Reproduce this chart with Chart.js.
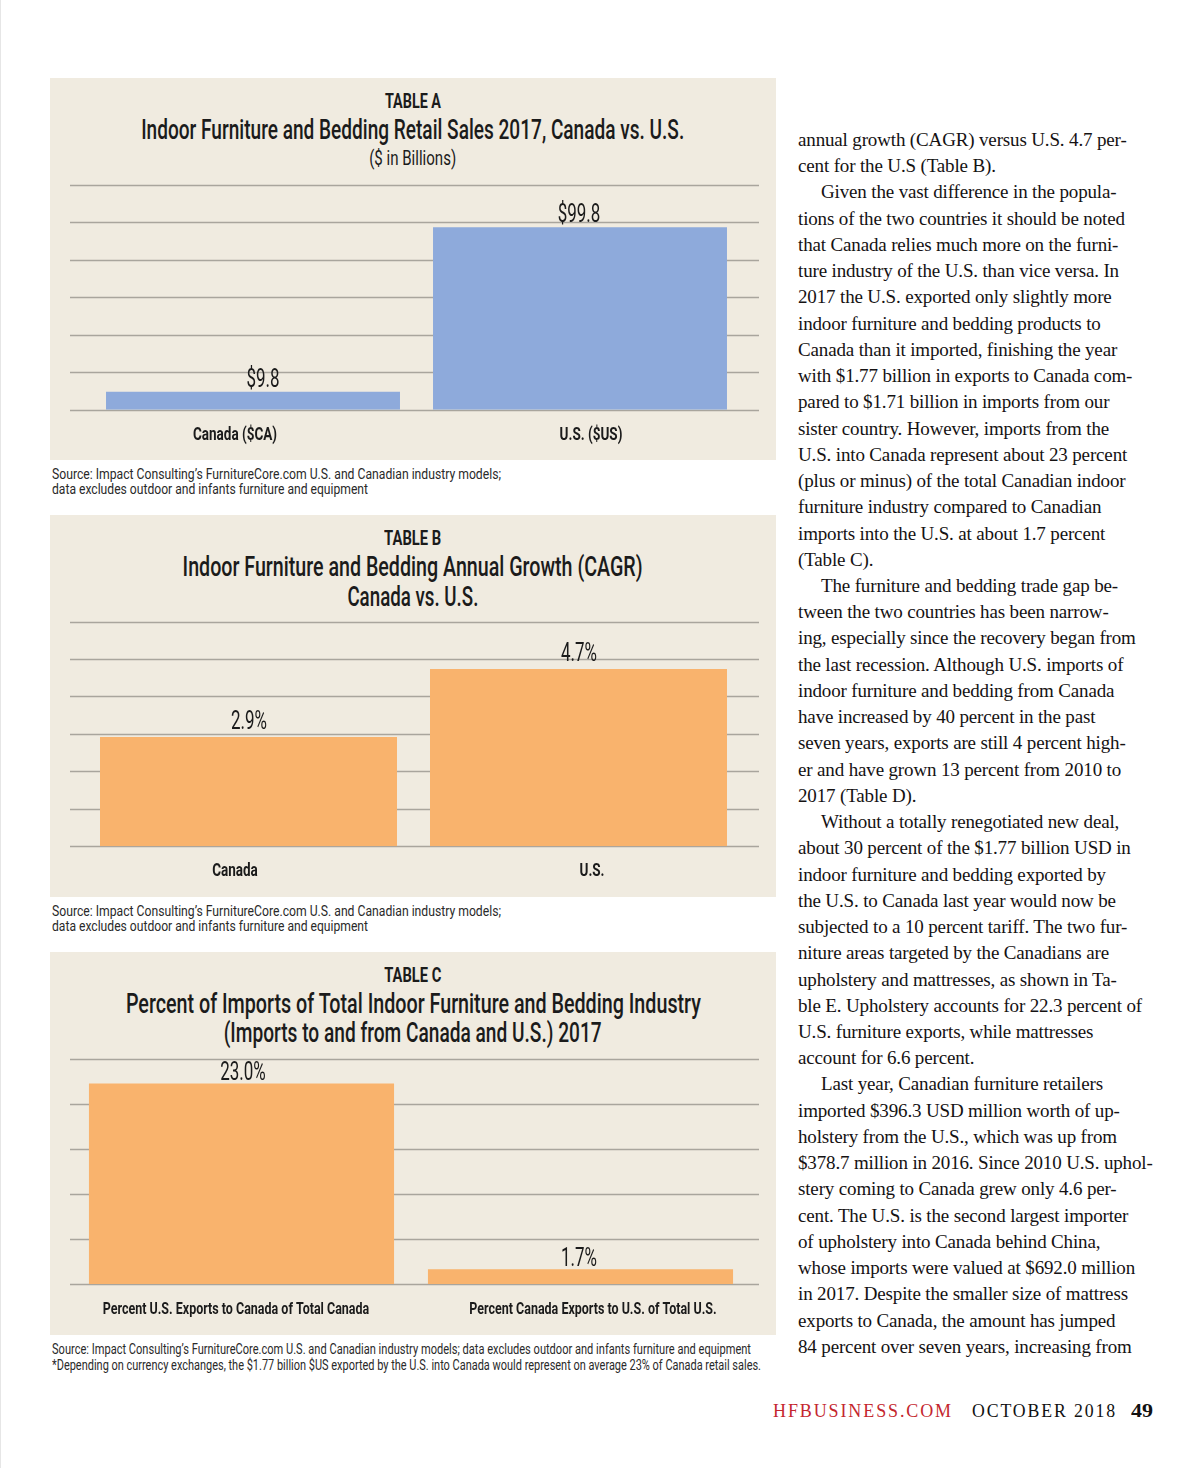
<!DOCTYPE html>
<html><head><meta charset="utf-8">
<script src="https://cdn.jsdelivr.net/npm/chart.js@4.4.1/dist/chart.umd.min.js"></script>
<style>
html,body{margin:0;padding:0;background:#fff}
body{width:1200px;height:1468px;position:relative;overflow:hidden}
.edge{position:absolute;left:0;top:0;width:1px;height:1468px;background:#e6e6e6}
.panel{position:absolute;left:50px;width:726px;background:#f0ebe0}
.ctr{position:absolute;left:413px;width:0;display:flex;justify-content:center;white-space:nowrap}
.lft{position:absolute;left:52px;white-space:nowrap}
.fit{display:inline-block;white-space:nowrap;flex:none}
.ctr .fit{transform-origin:50% 50%}
.lft .fit{transform-origin:0 50%}
.cond{font-family:Roboto,"Liberation Sans",sans-serif;color:#1b1b1b}
.ttl{font-weight:500}
.src{font-size:15px;line-height:16px;color:#2a2a2a}
canvas{position:absolute;left:50px}
.col{position:absolute;left:798px;top:127px;font-family:"Liberation Serif","DejaVu Serif",serif;font-size:19px;line-height:26.24px;color:#151213;white-space:nowrap;letter-spacing:-0.15px}
.ind{padding-left:23px}
.foot{position:absolute;top:1400px;font-family:"Liberation Serif","DejaVu Serif",serif;font-size:19px;line-height:22px;white-space:nowrap}
.foot .fit{transform-origin:0 50%}
</style>
</head>
<body>
<div class="edge"></div>
<div class="panel" style="top:78px;height:382px"></div>
<div class="panel" style="top:515px;height:382px"></div>
<div class="panel" style="top:952px;height:383px"></div>

<!-- Table A header -->
<div class="ctr cond" style="top:89px;line-height:24px;font-size:21px;font-weight:bold"><span class="fit" data-w="56">TABLE A</span></div>
<div class="ctr cond ttl" style="top:113px;line-height:34px;font-size:28px"><span class="fit" data-w="543">Indoor Furniture and Bedding Retail Sales 2017, Canada vs. U.S.</span></div>
<div class="ctr cond" style="top:146px;line-height:24px;font-size:21px"><span class="fit" data-w="87">($ in Billions)</span></div>
<canvas id="chartA" width="726" height="300" style="top:160px"></canvas>
<div class="lft cond src" style="top:466px"><span class="fit" data-w="449">Source: Impact Consulting’s FurnitureCore.com U.S. and Canadian industry models;</span></div>
<div class="lft cond src" style="top:481px"><span class="fit" data-w="316">data excludes outdoor and infants furniture and equipment</span></div>

<!-- Table B header -->
<div class="ctr cond" style="top:526px;line-height:24px;font-size:21px;font-weight:bold"><span class="fit" data-w="57">TABLE B</span></div>
<div class="ctr cond ttl" style="top:550px;line-height:34px;font-size:28px"><span class="fit" data-w="460">Indoor Furniture and Bedding Annual Growth (CAGR)</span></div>
<div class="ctr cond ttl" style="top:580px;line-height:34px;font-size:28px"><span class="fit" data-w="131">Canada vs. U.S.</span></div>
<canvas id="chartB" width="726" height="300" style="top:597px"></canvas>
<div class="lft cond src" style="top:903px"><span class="fit" data-w="449">Source: Impact Consulting’s FurnitureCore.com U.S. and Canadian industry models;</span></div>
<div class="lft cond src" style="top:918px"><span class="fit" data-w="316">data excludes outdoor and infants furniture and equipment</span></div>

<!-- Table C header -->
<div class="ctr cond" style="top:963px;line-height:24px;font-size:21px;font-weight:bold"><span class="fit" data-w="57">TABLE C</span></div>
<div class="ctr cond ttl" style="top:987px;line-height:34px;font-size:28px"><span class="fit" data-w="575">Percent of Imports of Total Indoor Furniture and Bedding Industry</span></div>
<div class="ctr cond ttl" style="top:1016px;line-height:34px;font-size:28px"><span class="fit" data-w="378">(Imports to and from Canada and U.S.) 2017</span></div>
<canvas id="chartC" width="726" height="300" style="top:1035px"></canvas>
<div class="lft cond src" style="top:1341px"><span class="fit" data-w="699">Source: Impact Consulting’s FurnitureCore.com U.S. and Canadian industry models; data excludes outdoor and infants furniture and equipment</span></div>
<div class="lft cond src" style="top:1357px"><span class="fit" data-w="709">*Depending on currency exchanges, the $1.77 billion $US exported by the U.S. into Canada would  represent on average 23% of Canada retail sales.</span></div>

<!-- Body column -->
<div class="col">
<div>annual growth (CAGR) versus U.S. 4.7 per-</div>
<div>cent for the U.S (Table B).</div>
<div class="ind">Given the vast difference in the popula-</div>
<div>tions of the two countries it should be noted</div>
<div>that Canada relies much more on the furni-</div>
<div>ture industry of the U.S. than vice versa. In</div>
<div>2017 the U.S. exported only slightly more</div>
<div>indoor furniture and bedding products to</div>
<div>Canada than it imported, finishing the year</div>
<div>with $1.77 billion in exports to Canada com-</div>
<div>pared to $1.71 billion in imports from our</div>
<div>sister country. However, imports from the</div>
<div>U.S. into Canada represent about 23 percent</div>
<div>(plus or minus) of the total Canadian indoor</div>
<div>furniture industry compared to Canadian</div>
<div>imports into the U.S. at about 1.7 percent</div>
<div>(Table C).</div>
<div class="ind">The furniture and bedding trade gap be-</div>
<div>tween the two countries has been narrow-</div>
<div>ing, especially since the recovery began from</div>
<div>the last recession. Although U.S. imports of</div>
<div>indoor furniture and bedding from Canada</div>
<div>have increased by 40 percent in the past</div>
<div>seven years, exports are still 4 percent high-</div>
<div>er and have grown 13 percent from 2010 to</div>
<div>2017 (Table D).</div>
<div class="ind">Without a totally renegotiated new deal,</div>
<div>about 30 percent of the $1.77 billion USD in</div>
<div>indoor furniture and bedding exported by</div>
<div>the U.S. to Canada last year would now be</div>
<div>subjected to a 10 percent tariff. The two fur-</div>
<div>niture areas targeted by the Canadians are</div>
<div>upholstery and mattresses, as shown in Ta-</div>
<div>ble E. Upholstery accounts for 22.3 percent of</div>
<div>U.S. furniture exports, while mattresses</div>
<div>account for 6.6 percent.</div>
<div class="ind">Last year, Canadian furniture retailers</div>
<div>imported $396.3 USD million worth of up-</div>
<div>holstery from the U.S., which was up from</div>
<div>$378.7 million in 2016. Since 2010 U.S. uphol-</div>
<div>stery coming to Canada grew only 4.6 per-</div>
<div>cent. The U.S. is the second largest importer</div>
<div>of upholstery into Canada behind China,</div>
<div>whose imports were valued at $692.0 million</div>
<div>in 2017. Despite the smaller size of mattress</div>
<div>exports to Canada, the amount has jumped</div>
<div>84 percent over seven years, increasing from</div>
</div>

<!-- Footer -->
<div class="foot" style="left:773px;color:#c4262e;letter-spacing:2px"><span class="fit" data-w="180">HFBUSINESS.COM</span></div>
<div class="foot" style="left:972px;color:#111;letter-spacing:2px"><span class="fit" data-w="145">OCTOBER 2018</span></div>
<div class="foot" style="left:1131px;color:#111;font-weight:bold"><span class="fit" data-w="22">49</span></div>

<script>
// ---- Data ----
const salesCategories = ['Canada ($CA)', 'U.S. ($US)'];
const salesValues = [9.8, 99.8];

const growthCategories = ['Canada', 'U.S.'];
const growthValues = [2.9, 4.7];

const importCategories = ['Percent U.S. Exports to Canada of Total Canada', 'Percent Canada Exports to U.S. of Total U.S.'];
const importValues = [23.0, 1.7];

// ---- Styling ----
const FAM = 'Roboto, "Liberation Sans", sans-serif';
const BLUE = '#8eaadb';
const ORANGE = '#f9b36d';
const GRID = '#a9a59d';
const INK = '#1b1b1b';

function fitAll() {
  document.querySelectorAll('.fit').forEach(el => {
    el.style.transform = 'none';
    const w = +el.dataset.w;
    const nat = el.getBoundingClientRect().width;
    if (nat > 0) el.style.transform = 'scaleX(' + (w / nat) + ')';
  });
}
fitAll();
if (document.fonts && document.fonts.ready) document.fonts.ready.then(fitAll);

// draw horizontally condensed text on the canvas
function condText(ctx, text, x, y, sx) {
  ctx.save();
  ctx.translate(x, y);
  ctx.scale(sx, 1);
  ctx.fillText(text, 0, 0);
  ctx.restore();
}

function makeChart(id, cats, vals, color, fmt, o) {
  const gridPlugin = {
    id: 'refGrid',
    beforeDatasetsDraw(chart) {
      const y = chart.scales.y, a = chart.chartArea, ctx = chart.ctx;
      ctx.save();
      ctx.strokeStyle = GRID;
      ctx.lineWidth = 1.3;
      for (let i = 0; i <= o.steps; i++) {
        const py = Math.round(y.getPixelForValue(o.max * i / o.steps)) + 0.5;
        ctx.beginPath();
        ctx.moveTo(a.left - o.extL, py);
        ctx.lineTo(a.right + o.extR, py);
        ctx.stroke();
      }
      ctx.restore();
    }
  };
  const labelPlugin = {
    id: 'valueLabels',
    afterDatasetsDraw(chart) {
      const ctx = chart.ctx, x = chart.scales.x, a = chart.chartArea;
      const meta = chart.getDatasetMeta(0);
      ctx.save();
      ctx.fillStyle = INK;
      ctx.textAlign = 'center';
      ctx.textBaseline = 'middle';
      // value labels above bars
      ctx.font = '25px ' + FAM;
      meta.data.forEach((bar, i) => {
        condText(ctx, fmt(chart.data.datasets[0].data[i]), bar.x + o.valShift[i], bar.y - o.gap, 0.68);
      });
      // category labels under the axis
      ctx.font = 'bold ' + o.catSize + 'px ' + FAM;
      chart.data.labels.forEach((lab, i) => {
        condText(ctx, lab, x.getPixelForValue(i) + o.shift[i], a.bottom + 25.5, o.catSx);
      });
      ctx.restore();
    }
  };
  return new Chart(document.getElementById(id), {
    type: 'bar',
    data: {
      labels: cats,
      datasets: [{ data: vals, backgroundColor: color, borderWidth: 0,
                   barPercentage: o.barPct, categoryPercentage: 1 }]
    },
    options: {
      responsive: false,
      animation: false,
      layout: { padding: { left: o.padL, right: o.padR, top: o.padT, bottom: o.padB } },
      plugins: { legend: { display: false }, tooltip: { enabled: false }, title: { display: false } },
      scales: {
        x: { display: false },
        y: { display: false, min: 0, max: o.max }
      }
    },
    plugins: [gridPlugin, labelPlugin]
  });
}

makeChart('chartA', salesCategories, salesValues, BLUE, v => '$' + v.toFixed(1),
  { padL: 39.5, padR: 32.5, padT: 24.7, padB: 50.3, extL: 19.5, extR: 15.5, barPct: 0.899,
    max: 123, steps: 6, gap: 11.5, valShift: [10, -1],
    catSize: 18.5, catSx: 0.73, shift: [-18, 11] });
makeChart('chartB', growthCategories, growthValues, ORANGE, v => v.toFixed(1) + '%',
  { padL: 33.5, padR: 32.5, padT: 24.5, padB: 50.7, extL: 13.5, extR: 15.5, barPct: 0.9,
    max: 5.96, steps: 6, gap: 14, valShift: [0.5, 0.5],
    catSize: 18.5, catSx: 0.73, shift: [-13.5, 13.5] });
makeChart('chartC', importCategories, importValues, ORANGE, v => v.toFixed(1) + '%',
  { padL: 22, padR: 26, padT: 24, padB: 51, extL: 2, extR: 9, barPct: 0.9,
    max: 25.8, steps: 5, gap: 9.5, valShift: [1.5, -1.5],
    catSize: 16, catSx: 0.78, shift: [-5.5, 12.5] });
</script>
</body></html>
